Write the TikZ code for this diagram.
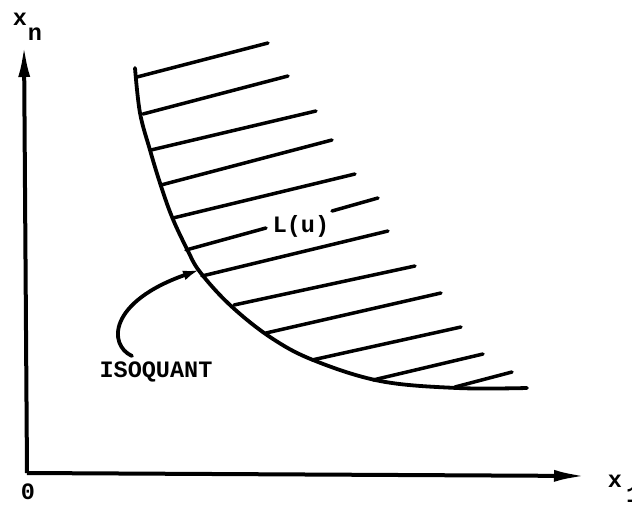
\documentclass[tikz,border=0pt]{standalone}
\usepackage{fontspec}
\setmonofont{Liberation Mono}
\usetikzlibrary{arrows.meta}
\begin{document}
\begin{tikzpicture}[x=1pt,y=-1pt,
  ink/.style={line width=3.8pt, line cap=round, line join=round},
  hatch/.style={line width=3.5pt, line cap=round},
  lbl/.style={font=\ttfamily\bfseries\fontsize{23.5}{23.5}\selectfont, inner sep=0pt},
  axarrow/.style={line width=4pt, -{Latex[length=32pt,width=12pt]}}]
\useasboundingbox (0,0) rectangle (632,504);
% axes
\coordinate (O) at (27,473);
\coordinate (ytop) at (24,45);
\coordinate (xend) at (586,476);
\draw[axarrow] (O) -- (ytop);
\draw[axarrow] (O) -- (xend);
\node[lbl] (xn) at (20,19) {x};
\node[lbl] (xnsub) at (35,34) {n};
\node[lbl] (x1) at (615,481) {x};
\node[lbl, anchor=west] (x1sub) at (626,495) {1};
\node[lbl] (zero) at (28,492) {0};
% isoquant curve
\draw[ink] plot[smooth, tension=0.6] coordinates {(135,68) (140,113) (150,150) (160,183) (172,217) (187,249) (200,272) (230,305) (270,337) (313,360) (380,381) (457,388) (527,388)};
% hatching
\draw[hatch] (137,77) -- (268,43);
\draw[hatch] (143,114) -- (288,76);
\draw[hatch] (151,150) -- (316,111);
\draw[hatch] (161,185) -- (332,140);
\draw[hatch] (173,218) -- (355,174);
\node[lbl] (Lu) at (301,226) {L(u)};
\draw[hatch] (186,250) -- (266,228);
\draw[hatch] (332,211) -- (378,198);
\draw[hatch] (202,276) -- (388,231);
\draw[hatch] (234,305) -- (415,266);
\draw[hatch] (266,333) -- (441,293);
\draw[hatch] (312,360) -- (461,327);
\draw[hatch] (373,380) -- (483,354);
\draw[hatch] (455,387) -- (512,372);
% isoquant label and arrow
\node[lbl] (iso) at (156,372) {ISOQUANT};
\coordinate (hookstart) at (132,356);
\coordinate (hooktip) at (199,270);
\draw[ink, -{Latex[length=16pt,width=10pt]}] (hookstart) .. controls (108,345) and (108,302) .. (hooktip);
\end{tikzpicture}
\end{document}
